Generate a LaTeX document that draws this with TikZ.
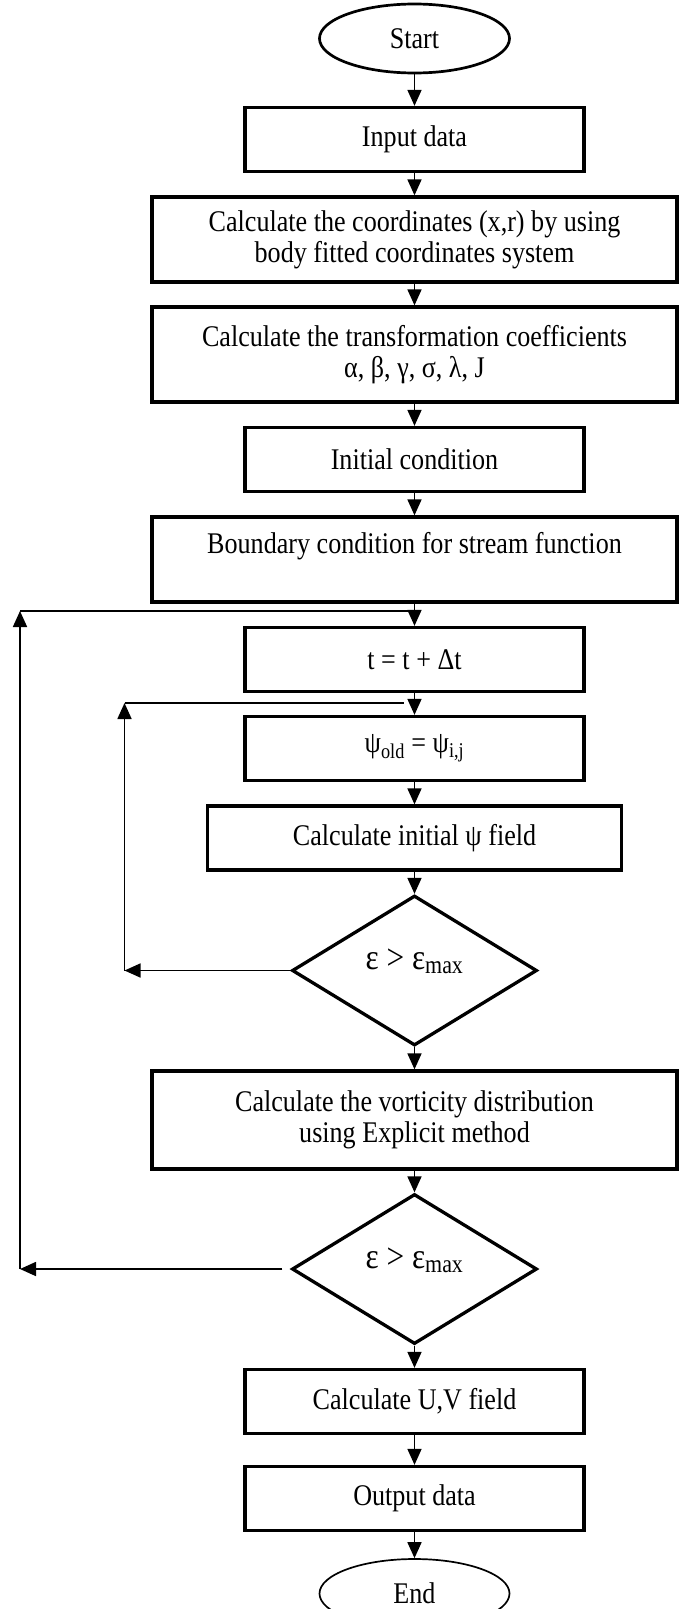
\documentclass[tikz,border=0pt]{standalone}
\usepackage{fontspec}
\setmainfont{Liberation Serif}[FakeStretch=0.87]
\usetikzlibrary{shapes.geometric,arrows.meta}

\tikzstyle{block}=[draw, line width=3.3pt, align=center, inner sep=0pt]
\tikzstyle{wide}=[block, minimum width=525pt]
\tikzstyle{narrow}=[block, minimum width=339pt, minimum height=64pt]
\tikzstyle{term}=[draw, ellipse, minimum width=190pt, minimum height=69pt]
\tikzstyle{test}=[draw, diamond, line width=3.3pt, minimum width=245pt,
  minimum height=150pt, inner sep=0pt, font=\fontsize{36}{40}\selectfont,
  text depth=22pt]
\tikzstyle{flow}=[line width=1.7pt, -{Triangle[length=16pt,width=14pt]}]
\tikzstyle{back}=[line width=1.7pt]

\begin{document}
\begin{tikzpicture}[x=1pt, y=-1pt, font=\fontsize{30}{31}\selectfont]
\useasboundingbox (0,0) rectangle (679,1609);
\draw(414.5,38.5) node[term, line width=2.7pt](start){Start};
\draw(414.5,139.5) node[narrow](input){Input data};
\draw(414.5,239.5) node[wide, minimum height=85pt](coord)
  {Calculate the coordinates (x,r) by using\\body fitted coordinates system};
\draw(414.5,354.5) node[wide, minimum height=95pt](trans)
  {Calculate the transformation coefficients\\α, β, γ, σ, λ, J};
\draw(414.5,459.5) node[narrow](init){Initial condition};
\draw(414.5,559.5) node[wide, minimum height=85pt, text depth=34pt](bound)
  {Boundary condition for stream function};
%
\draw(414.5,659.5) node[narrow](tstep){t = t + Δt};
\draw(414.5,748.5) node[narrow](psiold){ψ\textsubscript{old} = ψ\textsubscript{i,j}};
\draw(414.5,838) node[narrow, minimum width=414pt](psifield){Calculate initial ψ field};
\draw(414.5,970.5) node[test](conv1){ε > ε\textsubscript{max}};
\draw(414.5,1120) node[wide, minimum height=98pt](vort)
  {Calculate the vorticity distribution\\using Explicit method};
\draw(414.5,1269) node[test](conv2){ε > ε\textsubscript{max}};
%
\draw(414.5,1401.5) node[narrow](uvfield){Calculate U,V field};
\draw(414.5,1498.5) node[narrow](output){Output data};
\draw(414.5,1593.5) node[term, line width=1.7pt](stop){End};
%
\draw[flow] (start) -- (input); \draw[flow] (input) -- (coord);
\draw[flow] (coord) -- (trans); \draw[flow] (trans) -- (init);
\draw[flow] (init) -- (bound); \draw[flow] (bound) -- (tstep);
\draw[flow] (tstep) -- (psiold); \draw[flow] (psiold) -- (psifield);
\draw[flow] (psifield) -- (conv1); \draw[flow] (conv1) -- (vort);
\draw[flow] (vort) -- (conv2); \draw[flow] (conv2) -- (uvfield);
\draw[flow] (uvfield) -- (output); \draw[flow] (output) -- (stop);
%
\coordinate (innerL) at (124.5,970.5);
\coordinate (innerT) at (124.5,703);
\coordinate (innerJ) at (404,703);
\draw[flow] (conv1.west) -- (innerL); \draw[flow] (innerL) -- (innerT);
\draw[back] (innerT) -- (innerJ); % stops short of the main line
%
\coordinate (outerL) at (20,1269);
\coordinate (outerT) at (20,611);
\coordinate (outerJ) at (414.5,611);
\draw[flow, shorten <=8pt] (conv2.west) -- (outerL); \draw[flow] (outerL) -- (outerT);
\draw[back] (outerT) -- (outerJ);
\end{tikzpicture}
\end{document}
